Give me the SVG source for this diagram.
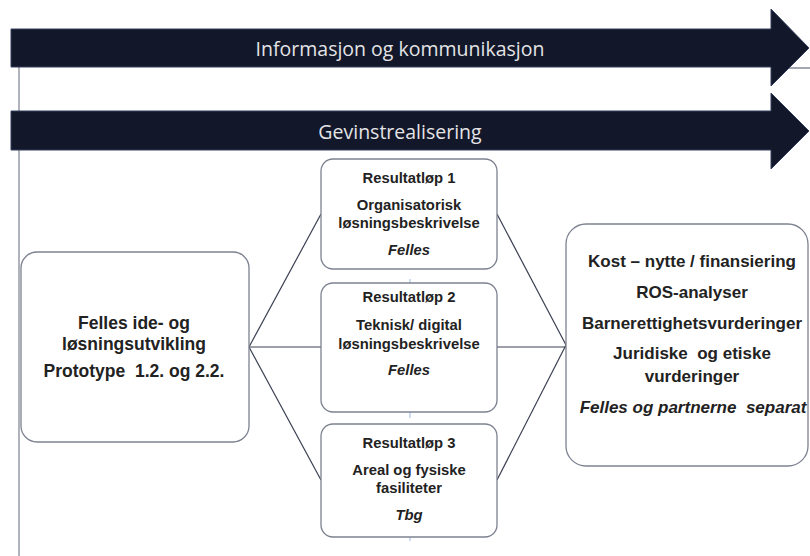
<svg xmlns="http://www.w3.org/2000/svg" width="810" height="556" viewBox="0 0 810 556">
  <style>
    .band { fill: #121729; stroke: #34415e; stroke-width: 1; }
    .band-text { font-family: "Open Sans", "Liberation Sans", sans-serif; font-size: 19.5px; fill: #e4e4e6; text-anchor: middle; dominant-baseline: central; }
    .box { fill: #ffffff; stroke: #7d8290; stroke-width: 1.3; }
    .frame { stroke: #858a97; stroke-width: 1.3; fill: none; }
    .link { stroke: #3a3f52; stroke-width: 1.2; fill: none; }
    .tick { stroke: #a9c6e8; stroke-width: 1.2; }
    .t { font-family: "Liberation Sans", Arial, sans-serif; font-weight: bold; fill: #222222; text-anchor: middle; dominant-baseline: central; white-space: pre; }
    .lg { font-size: 17px; }
    .xl { font-size: 17.5px; }
    .md { font-size: 14.8px; }
    .it { font-style: italic; }
  </style>
  <rect width="810" height="556" fill="#ffffff"/>

  <!-- outline frame on the left and under the first band -->
  <g id="frame">
    <line class="frame" x1="19" y1="67" x2="19" y2="556"/>
    <line class="frame" x1="771" y1="68" x2="810" y2="68"/>
  </g>

  <!-- timeline bands -->
  <g id="band-info">
    <polygon class="band" points="11,29 771,29 771,9 809,48 771,86 771,67 11,67"/>
    <text class="band-text" x="400" y="48">Informasjon og kommunikasjon</text>
  </g>
  <g id="band-gevinst">
    <polygon class="band" points="11,111 771,111 771,93 809,131 771,169 771,150 11,150"/>
    <text class="band-text" x="400" y="131">Gevinstrealisering</text>
  </g>

  <!-- connectors -->
  <g id="connectors">
    <line class="link" x1="249" y1="347" x2="321" y2="214"/>
    <line class="link" x1="249" y1="347" x2="321" y2="347"/>
    <line class="link" x1="249" y1="347" x2="321" y2="480"/>
    <line class="link" x1="497" y1="214" x2="566" y2="345"/>
    <line class="link" x1="497" y1="347" x2="566" y2="347"/>
    <line class="link" x1="497" y1="480" x2="566" y2="345"/>
    <line class="tick" x1="410" y1="279" x2="410" y2="283"/>
    <line class="tick" x1="410" y1="404" x2="410" y2="418"/>
    <line class="tick" x1="410" y1="532" x2="410" y2="541"/>
  </g>

  <!-- left node -->
  <g id="node-felles">
    <rect class="box" x="21" y="252" width="228" height="190" rx="16"/>
    <text class="t xl" x="134" y="323">Felles ide- og</text>
    <text class="t xl" x="134" y="344">løsningsutvikling</text>
    <text class="t xl" x="134" y="371">Prototype  1.2. og 2.2.</text>
  </g>

  <!-- result streams -->
  <g id="node-rl1">
    <rect class="box" x="321" y="159" width="176" height="110" rx="12"/>
    <text class="t md" x="409" y="178">Resultatløp 1</text>
    <text class="t md" x="409" y="205">Organisatorisk</text>
    <text class="t md" x="409" y="223">løsningsbeskrivelse</text>
    <text class="t md it" x="409" y="250">Felles</text>
  </g>
  <g id="node-rl2">
    <rect class="box" x="321" y="283" width="176" height="129" rx="12"/>
    <text class="t md" x="409" y="297">Resultatløp 2</text>
    <text class="t md" x="409" y="325">Teknisk/ digital</text>
    <text class="t md" x="409" y="344">løsningsbeskrivelse</text>
    <text class="t md it" x="409" y="370">Felles</text>
  </g>
  <g id="node-rl3">
    <rect class="box" x="321" y="424" width="176" height="113" rx="12"/>
    <text class="t md" x="409" y="443">Resultatløp 3</text>
    <text class="t md" x="409" y="470">Areal og fysiske</text>
    <text class="t md" x="409" y="488">fasiliteter</text>
    <text class="t md it" x="409" y="515">Tbg</text>
  </g>

  <!-- right node -->
  <g id="node-analyse">
    <rect class="box" x="566" y="224" width="242" height="242" rx="20"/>
    <text class="t lg" x="692" y="261">Kost – nytte / finansiering</text>
    <text class="t lg" x="692" y="292">ROS-analyser</text>
    <text class="t lg" x="692" y="323">Barnerettighetsvurderinger</text>
    <text class="t lg" x="692" y="353">Juridiske  og etiske</text>
    <text class="t lg" x="692" y="376">vurderinger</text>
    <text class="t lg it" x="693" y="407">Felles og partnerne  separat</text>
  </g>
</svg>
